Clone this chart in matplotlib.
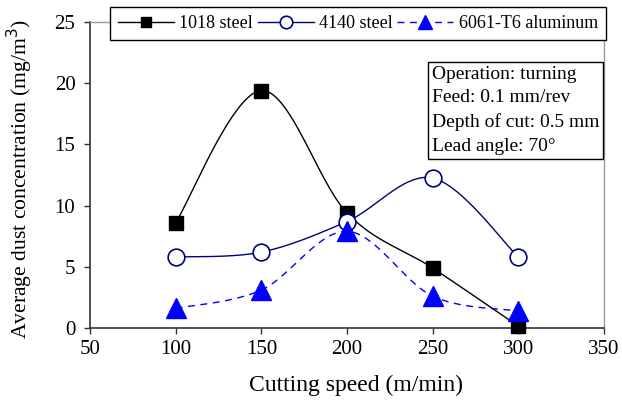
import numpy as np
import matplotlib
matplotlib.use("Agg")
import matplotlib.pyplot as plt

speed = [100, 150, 200, 250, 300]
steel_1018 = [8.6, 19.4, 9.4, 4.9, 0.15]
steel_4140 = [5.8, 6.2, 8.7, 12.25, 5.8]
alu_6061 = [1.6, 3.1, 7.9, 2.6, 1.4]
labels = ["1018 steel", "4140 steel", "6061-T6 aluminum"]
note = "Operation: turning\nFeed: 0.1 mm/rev\nDepth of cut: 0.5 mm\nLead angle: 70\u00b0"

plt.rcParams['font.family'] = ['Liberation Serif', 'DejaVu Serif']


def smooth(xs, ys, n=40):
    """Catmull-Rom style smoothing through the given points (Excel-like)."""
    P = np.column_stack([xs, ys]).astype(float)
    P = np.vstack([P[0], P, P[-1]])
    out = []
    for i in range(1, len(P) - 2):
        p0, p1, p2, p3 = P[i - 1], P[i], P[i + 1], P[i + 2]
        c1 = p1 + (p2 - p0) / 6.0
        c2 = p2 - (p3 - p1) / 6.0
        t = np.linspace(0, 1, n)[:, None]
        seg = ((1 - t) ** 3) * p1 + 3 * ((1 - t) ** 2) * t * c1 + 3 * (1 - t) * t ** 2 * c2 + t ** 3 * p2
        out.append(seg if i == 1 else seg[1:])
    s = np.vstack(out)
    return s[:, 0], s[:, 1]


fig = plt.figure(figsize=(6.22, 4.03), dpi=100)
ax = fig.add_axes([90 / 622, 75 / 403, (604 - 90) / 622, (328 - 22) / 403])

styles = [
    dict(color='black', ls='-', lw=1.0, marker='s', ms=10, mfc='black', mec='black'),
    dict(color='#000080', ls='-', lw=1.0, marker='o', ms=12, mfc='white', mec='#000080', mew=1.2),
    dict(color='#0000FF', ls=(0, (5, 4)), lw=1.0, marker='^', ms=14, mfc='#0000FF', mec='#0000FF'),
]
handles = []
for ys, st, lab in zip([steel_1018, steel_4140, alu_6061], styles, labels):
    sx, sy = smooth(speed, ys)
    ax.plot(sx, sy, color=st['color'], ls=st['ls'], lw=st['lw'], zorder=2, clip_on=False)
    ax.plot(speed, ys, ls='none', marker=st['marker'], ms=st['ms'], mfc=st['mfc'],
            mec=st['mec'], mew=st.get('mew', 1.0), zorder=3, clip_on=False)
    h, = ax.plot([], [], color=st['color'], ls=st['ls'], lw=st['lw'], marker=st['marker'],
                 ms=st['ms'] * 0.75, mfc=st['mfc'], mec=st['mec'], mew=st.get('mew', 1.0))
    handles.append(h)

ax.set_xlim(50, 350)
ax.set_ylim(0, 25)
ax.set_xticks([50, 100, 150, 200, 250, 300, 350])
ax.set_yticks([0, 5, 10, 15, 20, 25])
ax.tick_params(direction='out', length=4.5, width=1, labelsize=15, colors='#333333', labelcolor='black')
ax.tick_params(axis='y', pad=6)
ax.tick_params(axis='x', pad=4)
for s in ['left', 'bottom']:
    ax.spines[s].set_color('#333333')
    ax.spines[s].set_linewidth(1.2)
for s in ['top', 'right']:
    ax.spines[s].set_color('#999999')
    ax.spines[s].set_linewidth(1.0)

ax.set_xlabel("Cutting speed (m/min)", fontsize=17)
ax.xaxis.set_label_coords(0.517, -0.152)
ax.set_ylabel("Average dust concentration (mg/m$^3$)", fontsize=15.6)
ax.yaxis.set_label_coords(-0.107, 0.485)

leg = fig.legend(handles, labels, loc='upper right', bbox_to_anchor=(606 / 622, 1 - 7 / 403),
                 ncol=3, fontsize=13, frameon=True, fancybox=False, edgecolor='black',
                 framealpha=1, handlelength=3.1, handletextpad=0.3, columnspacing=0.25,
                 borderpad=0.45, borderaxespad=0)
leg.get_frame().set_linewidth(1.0)

fig.text(432 / 622, 1 - 66 / 403, note, ha='left', va='top', fontsize=14, linespacing=1.5,
         bbox=dict(boxstyle='square,pad=0.2', fc='white', ec='black', lw=1.0))

fig.savefig("out.png", dpi=100)
